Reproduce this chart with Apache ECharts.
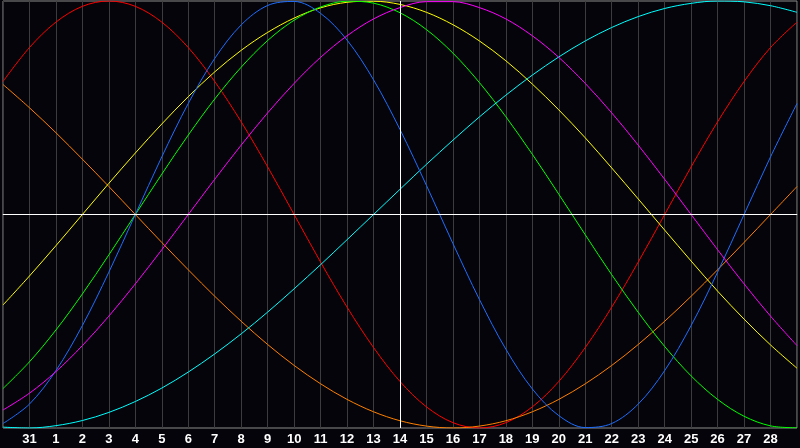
<!DOCTYPE html>
<html>
<head>
<meta charset="utf-8">
<script src="https://cdn.jsdelivr.net/npm/echarts@6/dist/echarts.min.js"></script>
<style>
html,body{margin:0;padding:0;background:#05040a;}
#chart{width:800px;height:448px;}
</style>
</head>
<body>
<div id="chart"></div>
<script>
// Day labels for positions 0..30 (first and last are not shown)
var dayLabels = ['30','31','1','2','3','4','5','6','7','8','9','10','11','12','13','14','15','16','17','18','19','20','21','22','23','24','25','26','27','28','29'];
var todayIndex = 15; // day 14

// Cycle values (-1..1) per day
var emotional =   [0.623,0.782,0.901,0.975,1,0.975,0.901,0.782,0.623,0.434,0.223,0,-0.223,-0.434,-0.623,-0.782,-0.901,-0.975,-1,-0.975,-0.901,-0.782,-0.623,-0.434,-0.223,0,0.223,0.434,0.623,0.782,0.901];
var awareness =   [0.609,0.500,0.383,0.259,0.131,0,-0.131,-0.259,-0.383,-0.500,-0.609,-0.707,-0.793,-0.866,-0.924,-0.966,-0.991,-1,-0.991,-0.966,-0.924,-0.866,-0.793,-0.707,-0.609,-0.500,-0.383,-0.259,-0.131,0,0.131];
var aesthetic =   [-0.424,-0.288,-0.146,0,0.146,0.288,0.424,0.552,0.668,0.769,0.853,0.920,0.968,0.994,0.999,0.984,0.947,0.889,0.813,0.720,0.611,0.490,0.359,0.218,0.073,-0.073,-0.218,-0.359,-0.490,-0.611,-0.720];
var intellectual =[-0.815,-0.690,-0.541,-0.372,-0.189,0,0.189,0.372,0.541,0.690,0.815,0.910,0.972,0.999,0.990,0.945,0.866,0.756,0.618,0.458,0.282,0.095,-0.095,-0.282,-0.458,-0.618,-0.756,-0.866,-0.945,-0.990,-0.999];
var spiritual =   [-0.996,-1.000,-0.989,-0.965,-0.927,-0.876,-0.813,-0.738,-0.653,-0.559,-0.457,-0.348,-0.235,-0.118,0,0.118,0.235,0.348,0.457,0.559,0.653,0.738,0.813,0.876,0.927,0.965,0.989,1.000,0.996,0.978,0.947];
var physical =    [-0.979,-0.888,-0.731,-0.520,-0.270,0,0.270,0.520,0.731,0.888,0.979,0.998,0.942,0.817,0.631,0.398,0.136,-0.136,-0.398,-0.631,-0.817,-0.942,-0.998,-0.979,-0.888,-0.731,-0.520,-0.270,0,0.270,0.520];
var intuitive =   [-0.916,-0.837,-0.736,-0.614,-0.476,-0.325,-0.165,0,0.165,0.325,0.476,0.614,0.736,0.837,0.916,0.969,0.997,0.997,0.969,0.916,0.837,0.736,0.614,0.476,0.325,0.165,0,-0.165,-0.325,-0.476,-0.614];

var seriesDefs = [
  {name:'Emotional', data:emotional, color:'#ff0000'},
  {name:'Awareness', data:awareness, color:'#ff8000'},
  {name:'Aesthetic', data:aesthetic, color:'#ffff00'},
  {name:'Intellectual', data:intellectual, color:'#00ff00'},
  {name:'Spiritual', data:spiritual, color:'#00ffff'},
  {name:'Physical', data:physical, color:'#1e6eff'},
  {name:'Intuitive', data:intuitive, color:'#ff00ff'}
];

var series = seriesDefs.map(function(s){
  return {
    name:s.name, type:'line', smooth:0.34, symbol:'none',
    data:s.data.map(function(v,i){return [i,v];}),
    lineStyle:{color:s.color, width:1},
    itemStyle:{color:s.color},
    animation:false
  };
});
series.unshift({
  type:'line', data:[], symbol:'none', animation:false,
  markLine:{
    silent:true, symbol:'none', animation:false,
    label:{show:false},
    lineStyle:{color:'#ffffff', width:1, type:'solid'},
    data:[{yAxis:0},{xAxis:todayIndex}]
  }
});

var chart = echarts.init(document.getElementById('chart'));
chart.setOption({
  backgroundColor:'#05040a',
  animation:false,
  grid:{left:0, right:0, top:1, bottom:20, show:true, borderColor:'#8c8c8c', borderWidth:1, containLabel:false},
  xAxis:{
    type:'value', min:0, max:30, interval:1,
    axisLine:{show:true, lineStyle:{color:'#a0a0a0', width:1}},
    axisTick:{show:false},
    splitLine:{show:true, lineStyle:{color:'#3c3c3c', width:1}},
    axisLabel:{
      color:'#ffffff', fontWeight:'bold', fontSize:13, fontFamily:'Liberation Sans', margin:5,
      formatter:function(v){ return (v<=0||v>=30) ? '' : dayLabels[v]; }
    }
  },
  yAxis:{
    type:'value', min:-1, max:1,
    axisLine:{show:false}, axisTick:{show:false}, axisLabel:{show:false},
    splitLine:{show:false}
  },
  series:series
});
</script>
</body>
</html>
